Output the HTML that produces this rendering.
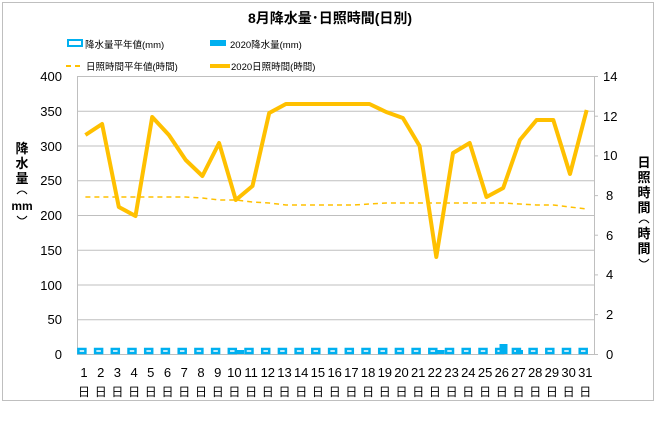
<!DOCTYPE html>
<html><head><meta charset="utf-8"><style>
body{margin:0;background:#fff}
text{font-family:"Liberation Sans","Noto Sans CJK JP",sans-serif;fill:#000}
</style></head><body>
<svg width="660" height="426" viewBox="0 0 660 426" xmlns="http://www.w3.org/2000/svg">
<rect x="2.5" y="2.5" width="651" height="398" fill="#fff" stroke="#bfbfbf"/>
<text x="330" y="23" font-size="14" font-weight="bold" text-anchor="middle">8月降水量･日照時間(日別)</text>
<rect x="68" y="40" width="14" height="6" fill="#fff" stroke="#00b0f0" stroke-width="2"/>
<text x="85" y="48" font-size="9.5">降水量平年値(mm)</text>
<rect x="210" y="40" width="16" height="6" fill="#00b0f0"/>
<text x="230" y="48" font-size="9.5">2020降水量(mm)</text>
<line x1="66" y1="66" x2="82" y2="66" stroke="#ffc000" stroke-width="2" stroke-dasharray="5,4"/>
<text x="86" y="70" font-size="9.5">日照時間平年値(時間)</text>
<line x1="210" y1="66" x2="230" y2="66" stroke="#ffc000" stroke-width="4"/>
<text x="231" y="70" font-size="9.5">2020日照時間(時間)</text>
<g stroke="#bfbfbf" stroke-width="1">
<line x1="77" y1="76.5" x2="594" y2="76.5"/>
<line x1="77" y1="111.3" x2="594" y2="111.3"/>
<line x1="77" y1="146" x2="594" y2="146"/>
<line x1="77" y1="180.8" x2="594" y2="180.8"/>
<line x1="77" y1="215.5" x2="594" y2="215.5"/>
<line x1="77" y1="250.3" x2="594" y2="250.3"/>
<line x1="77" y1="285" x2="594" y2="285"/>
<line x1="77" y1="319.8" x2="594" y2="319.8"/>
<line x1="77" y1="354.5" x2="598" y2="354.5"/>
<line x1="77.5" y1="76" x2="77.5" y2="355"/>
<line x1="594.5" y1="76" x2="594.5" y2="355"/>
<line x1="594" y1="76.5" x2="598" y2="76.5"/>
<line x1="594" y1="116.2" x2="598" y2="116.2"/>
<line x1="594" y1="155.9" x2="598" y2="155.9"/>
<line x1="594" y1="195.6" x2="598" y2="195.6"/>
<line x1="594" y1="235.2" x2="598" y2="235.2"/>
<line x1="594" y1="274.9" x2="598" y2="274.9"/>
<line x1="594" y1="314.6" x2="598" y2="314.6"/>
</g>
<g font-size="13" text-anchor="end">
<text x="62" y="81">400</text><text x="62" y="116">350</text><text x="62" y="151">300</text><text x="62" y="185">250</text><text x="62" y="220">200</text><text x="62" y="255">150</text><text x="62" y="290">100</text><text x="62" y="324">50</text><text x="62" y="359">0</text>
</g>
<g font-size="13">
<text x="603" y="81">14</text><text x="603" y="121">12</text><text x="603" y="160">10</text><text x="606" y="200">8</text><text x="606" y="240">6</text><text x="606" y="279">4</text><text x="606" y="319">2</text><text x="606" y="359">0</text>
</g>
<g font-size="13" font-weight="bold" text-anchor="middle">
<text x="22" y="153">降</text><text x="22" y="168">水</text><text x="22" y="183">量</text>
<path d="M17,194 Q22,188 27,194" fill="none" stroke="#000" stroke-width="1"/>
<text x="22" y="210" font-size="12">mm</text>
<path d="M17,216 Q22,222 27,216" fill="none" stroke="#000" stroke-width="1"/>
</g>
<g font-size="13" font-weight="bold" text-anchor="middle">
<text x="644" y="167">日</text><text x="644" y="182">照</text><text x="644" y="197">時</text><text x="644" y="212">間</text>
<path d="M639,223 Q644,217 649,223" fill="none" stroke="#000" stroke-width="1"/>
<text x="644" y="238">時</text><text x="644" y="253">間</text>
<path d="M639,259 Q644,265 649,259" fill="none" stroke="#000" stroke-width="1"/>
</g>
<g fill="#fff" stroke="#00b0f0" stroke-width="2.5">
<rect x="78.4" y="349" width="7" height="4"/><rect x="95.1" y="349" width="7" height="4"/><rect x="111.8" y="349" width="7" height="4"/><rect x="128.5" y="349" width="7" height="4"/><rect x="145.2" y="349" width="7" height="4"/><rect x="161.9" y="349" width="7" height="4"/><rect x="178.7" y="349" width="7" height="4"/><rect x="195.4" y="349" width="7" height="4"/><rect x="212.1" y="349" width="7" height="4"/><rect x="228.8" y="349" width="7" height="4"/><rect x="245.5" y="349" width="7" height="4"/><rect x="262.2" y="349" width="7" height="4"/><rect x="278.9" y="349" width="7" height="4"/><rect x="295.6" y="349" width="7" height="4"/><rect x="312.3" y="349" width="7" height="4"/><rect x="329.1" y="349" width="7" height="4"/><rect x="345.8" y="349" width="7" height="4"/><rect x="362.5" y="349" width="7" height="4"/><rect x="379.2" y="349" width="7" height="4"/><rect x="395.9" y="349" width="7" height="4"/><rect x="412.6" y="349" width="7" height="4"/><rect x="429.3" y="349" width="7" height="4"/><rect x="446" y="349" width="7" height="4"/><rect x="462.7" y="349" width="7" height="4"/><rect x="479.5" y="349" width="7" height="4"/><rect x="496.2" y="349" width="7" height="4"/><rect x="512.9" y="349" width="7" height="4"/><rect x="529.6" y="349" width="7" height="4"/><rect x="546.3" y="349" width="7" height="4"/><rect x="563" y="349" width="7" height="4"/><rect x="579.7" y="349" width="7" height="4"/>
</g>
<g fill="#00b0f0">
<rect x="237" y="350" width="7" height="4"/>
<rect x="437.5" y="350" width="7" height="4"/>
<rect x="499.5" y="344" width="8" height="10"/>
<rect x="516" y="350" width="7" height="4"/>
</g>
<polyline fill="none" stroke="#ffc000" stroke-width="1.5" stroke-dasharray="5,4" points="85.4,197 102.1,197 118.8,197 135.5,197 152.2,197 168.9,197 185.7,197 202.4,198 219.1,200 235.8,200 252.5,202 269.2,203 285.9,205 302.6,205 319.3,205 336.1,205 352.8,205 369.5,204 386.2,203 402.9,203 419.6,203 436.3,203 453,203 469.7,203 486.5,203 503.2,203 519.9,204 536.6,205 553.3,205 570,207 586.7,209"/>
<polyline fill="none" stroke="#ffc000" stroke-width="4" stroke-linejoin="round" points="85.4,135 102.1,124 118.8,207 135.5,216 152.2,117 168.9,135 185.7,160 202.4,176 219.1,143 235.8,200 252.5,186 269.2,113 285.9,104 302.6,104 319.3,104 336.1,104 352.8,104 369.5,104 386.2,112 402.9,118 419.6,146 436.3,257 453,153 469.7,143 486.5,197 503.2,188 519.9,140 536.6,120 553.3,120 570,174 586.7,110"/>
<g font-size="13" text-anchor="middle">
<text x="84" y="377">1</text><text x="100.7" y="377">2</text><text x="117.4" y="377">3</text><text x="134.1" y="377">4</text><text x="150.8" y="377">5</text><text x="167.5" y="377">6</text><text x="184.3" y="377">7</text><text x="201" y="377">8</text><text x="217.7" y="377">9</text><text x="234.4" y="377">10</text><text x="251.1" y="377">11</text><text x="267.8" y="377">12</text><text x="284.5" y="377">13</text><text x="301.2" y="377">14</text><text x="317.9" y="377">15</text><text x="334.7" y="377">16</text><text x="351.4" y="377">17</text><text x="368.1" y="377">18</text><text x="384.8" y="377">19</text><text x="401.5" y="377">20</text><text x="418.2" y="377">21</text><text x="434.9" y="377">22</text><text x="451.6" y="377">23</text><text x="468.3" y="377">24</text><text x="485.1" y="377">25</text><text x="501.8" y="377">26</text><text x="518.5" y="377">27</text><text x="535.2" y="377">28</text><text x="551.9" y="377">29</text><text x="568.6" y="377">30</text><text x="585.3" y="377">31</text>
</g>
<g font-size="12" text-anchor="middle" fill="#404040">
<text x="84" y="396">日</text><text x="100.7" y="396">日</text><text x="117.4" y="396">日</text><text x="134.1" y="396">日</text><text x="150.8" y="396">日</text><text x="167.5" y="396">日</text><text x="184.3" y="396">日</text><text x="201" y="396">日</text><text x="217.7" y="396">日</text><text x="234.4" y="396">日</text><text x="251.1" y="396">日</text><text x="267.8" y="396">日</text><text x="284.5" y="396">日</text><text x="301.2" y="396">日</text><text x="317.9" y="396">日</text><text x="334.7" y="396">日</text><text x="351.4" y="396">日</text><text x="368.1" y="396">日</text><text x="384.8" y="396">日</text><text x="401.5" y="396">日</text><text x="418.2" y="396">日</text><text x="434.9" y="396">日</text><text x="451.6" y="396">日</text><text x="468.3" y="396">日</text><text x="485.1" y="396">日</text><text x="501.8" y="396">日</text><text x="518.5" y="396">日</text><text x="535.2" y="396">日</text><text x="551.9" y="396">日</text><text x="568.6" y="396">日</text><text x="585.3" y="396">日</text>
</g>
</svg>
</body></html>
